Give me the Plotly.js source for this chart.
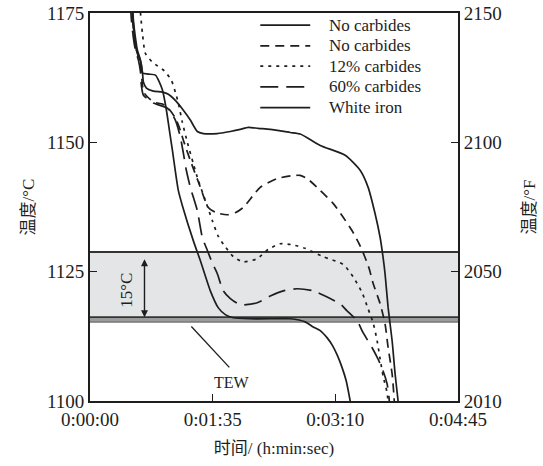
<!DOCTYPE html>
<html><head><meta charset="utf-8">
<script src="https://cdn.plot.ly/plotly-3.0.1.min.js"></script>
<style>html,body{margin:0;padding:0;background:#fff;}#chart{width:543px;height:466px;}</style>
</head><body><div id="chart"></div>
<script>
// ---- data (time in seconds, temperature in °C) ----
const seriesNames = ['No carbides', 'No carbides', '12% carbides', '60% carbides', 'White iron'];

const timeNC = [32.9,33.6,35.2,36.7,39.1,40.6,41.4,43.7,49.1,56.1,60.7,66.1,72.3,77.7,83.1,87.8,98.6,108.7,116.4,122.6,130.3,139.6,155.1,162.8,178.3,197.6,209.2,215.4,220.8,224.7,227.0,228.5,230.9,234.0,236.3,238.6,239.0];
const tempNC = [1176.6,1173.6,1170.2,1167.8,1165.9,1163.6,1161.6,1160.5,1159.9,1159.7,1159.3,1158.1,1156.2,1154.3,1152.1,1151.7,1151.7,1152.1,1152.5,1152.9,1152.7,1152.5,1151.9,1151.6,1149.4,1147.5,1144.6,1141.3,1136.2,1131.6,1127.7,1124.6,1118.0,1111.6,1105.2,1100.0,1098.8];

const timeND = [32.1,32.9,34.4,36.0,38.3,39.8,40.6,42.1,49.1,56.1,59.9,66.1,70.0,72.3,77.7,85.5,91.6,97.8,106.3,112.5,118.7,131.8,145.0,157.4,162.8,168.2,178.3,188.3,196.1,203.0,209.2,213.1,216.2,219.3,224.7,228.5,230.9,234.0,235.5,235.9];
const tempND = [1176.6,1173.6,1170.2,1167.8,1165.9,1163.6,1161.0,1159.5,1157.8,1157.4,1156.8,1154.7,1152.3,1150.4,1146.5,1141.3,1137.4,1136.4,1136.0,1136.4,1137.4,1141.3,1143.0,1143.6,1143.6,1143.0,1140.7,1138.2,1135.5,1132.9,1130.0,1127.7,1125.6,1122.7,1118.8,1114.9,1110.3,1105.2,1100.6,1098.8];

const time12 = [38.7,39.1,40.6,42.9,48.3,57.6,63.0,66.1,68.4,71.5,75.4,80.0,83.9,89.3,94.7,99.4,104.8,111.0,118.7,129.5,138.0,147.3,156.6,166.7,180.6,196.1,203.8,210.8,215.4,219.3,222.4,224.7,227.0,230.1,231.2];
const temp12 = [1176.6,1175.0,1171.1,1167.2,1165.5,1163.8,1162.0,1159.7,1157.6,1153.9,1150.0,1145.9,1142.6,1138.8,1134.9,1131.8,1129.8,1127.9,1126.9,1127.5,1129.3,1130.4,1130.2,1129.5,1127.9,1126.4,1124.0,1120.9,1117.8,1115.1,1111.6,1108.1,1104.8,1101.6,1098.8];

const time60 = [31.3,32.1,33.6,35.2,37.5,39.1,39.8,41.4,49.1,59.9,66.1,70.0,72.3,74.6,77.7,83.1,87.0,90.9,94.7,98.6,103.2,108.7,116.4,129.5,139.6,149.7,160.5,172.9,186.0,193.7,199.2,206.9,211.5,218.5,223.1,227.0,230.1,231.6,232.0];
const temp60 = [1176.6,1173.6,1170.2,1167.8,1165.9,1163.6,1161.0,1159.1,1157.6,1156.6,1154.3,1151.0,1147.9,1144.6,1141.3,1136.8,1131.6,1129.1,1126.7,1124.6,1121.3,1119.8,1118.6,1119.0,1120.3,1121.3,1121.7,1121.3,1119.8,1118.8,1117.4,1115.5,1113.2,1110.3,1108.1,1105.8,1103.3,1100.6,1098.8];

const timeWI = [32.1,32.9,33.6,34.4,36.0,38.3,39.8,40.6,45.2,50.7,53.8,56.1,59.2,61.5,63.8,68.4,71.5,80.0,85.5,93.2,99.4,104.8,111.0,124.1,143.5,155.1,166.7,172.9,178.3,183.7,187.6,191.4,195.3,198.4,201.5,202.3];
const tempWI = [1176.6,1175.0,1172.7,1170.2,1167.8,1166.3,1164.9,1163.4,1163.2,1163.0,1161.6,1160.1,1156.2,1152.3,1148.5,1140.7,1137.8,1131.0,1127.1,1121.3,1118.0,1116.7,1116.1,1115.9,1115.9,1115.9,1115.3,1114.3,1113.6,1112.2,1110.8,1108.9,1106.4,1103.9,1100.0,1098.8];

const xTickVals = [0, 95, 190, 285];
const xTickText = ['0:00:00', '0:01:35', '0:03:10', '0:04:45'];
const yTickVals = [1100, 1125, 1150, 1175];
const yTickTextF = ['2010', '2050', '2100', '2150'];

const bandTop = 1128.8, bandBottom = 1116.2, bandEdge = 1115.25;   // °C
const arrowTime = 42.2, arrowTop = 1127.7;                            // 15°C arrow
const tewStart = [78.5, 1114.4], tewEnd = [107.9, 1106.5];           // TEW pointer
const tewLabel = [110.2, 1103.6];
const spanLabel = [28.2, 1121.4];

// ---- styles ----
const INK = '#1e1e1e';
const FONT = 'Liberation Serif, Times New Roman, Noto Sans CJK SC, serif';
const dashes = ['solid', '9px,6px', '3px,5px', '18px,8px', 'solid'];
const xs = [timeNC, timeND, time12, time60, timeWI];
const ys = [tempNC, tempND, temp12, temp60, tempWI];

const traces = xs.map((x, i) => ({
  x: x, y: ys[i], type: 'scatter', mode: 'lines', name: seriesNames[i],
  line: {color: INK, width: 1.7, dash: dashes[i], shape: 'spline', smoothing: 0.6},
  showlegend: false, hoverinfo: 'skip'
}));
traces.push({x: [null], y: [null], yaxis: 'y2', type: 'scatter', mode: 'lines', showlegend: false, hoverinfo: 'skip'});

// custom legend rows (paper coords)
const legX0 = 0.4627, legX1 = 0.5984, legTx = 0.6445;
const legY = [0.969, 0.9155, 0.863, 0.8096, 0.7563];

const shapes = [
  {type: 'rect', xref: 'paper', x0: 0, x1: 1, yref: 'y', y0: bandBottom, y1: bandTop,
   fillcolor: '#e4e5e7', line: {width: 0}, layer: 'below'},
  {type: 'rect', xref: 'paper', x0: 0, x1: 1, yref: 'y', y0: bandEdge, y1: bandBottom,
   fillcolor: '#9c9c9c', line: {width: 0}, layer: 'below'},
  {type: 'line', xref: 'paper', x0: 0, x1: 1, yref: 'y', y0: bandTop, y1: bandTop,
   line: {color: '#333', width: 2}, layer: 'below'},
  {type: 'line', xref: 'paper', x0: 0, x1: 1, yref: 'y', y0: bandBottom, y1: bandBottom,
   line: {color: '#333', width: 1.8}, layer: 'below'},
  {type: 'line', xref: 'paper', x0: 0, x1: 1, yref: 'y', y0: bandEdge, y1: bandEdge,
   line: {color: '#555', width: 1}, layer: 'below'},
  {type: 'line', xref: 'x', yref: 'y', x0: tewStart[0], y0: tewStart[1], x1: tewEnd[0], y1: tewEnd[1],
   line: {color: INK, width: 1.3}}
];
legY.forEach((yy, i) => {
  shapes.push({type: 'line', xref: 'paper', yref: 'paper', x0: legX0, x1: legX1, y0: yy, y1: yy,
    line: {color: INK, width: 1.7, dash: dashes[i]}});
});

const annotations = [
  {xref: 'x', yref: 'y', x: arrowTime, y: bandBottom, axref: 'x', ayref: 'y', ax: arrowTime, ay: arrowTop,
   text: '', showarrow: true, arrowside: 'end+start', arrowhead: 2, arrowsize: 1, arrowwidth: 1.4,
   arrowcolor: INK, standoff: 0, startstandoff: 0},
  {xref: 'x', yref: 'y', x: spanLabel[0], y: spanLabel[1], text: '15°C', textangle: -90, showarrow: false,
   font: {family: FONT, size: 17, color: INK}},
  {xref: 'x', yref: 'y', x: tewLabel[0], y: tewLabel[1], text: 'TEW', showarrow: false,
   font: {family: FONT, size: 16, color: INK}}
];
legY.forEach((yy, i) => {
  annotations.push({xref: 'paper', yref: 'paper', x: legTx, y: yy, xanchor: 'left', yanchor: 'middle',
    text: seriesNames[i], showarrow: false, font: {family: FONT, size: 17, color: INK}});
});

const axisCommon = {
  ticks: 'inside', ticklen: 7, tickwidth: 1.5, tickcolor: INK,
  showline: true, linewidth: 2, linecolor: INK, showgrid: false, zeroline: false,
  tickfont: {family: FONT, size: 19, color: INK}, fixedrange: true
};

const layout = {
  width: 543, height: 466,
  margin: {l: 90, r: 85, t: 13, b: 65},
  paper_bgcolor: '#fff', plot_bgcolor: '#fff',
  font: {family: FONT, color: INK},
  showlegend: false,
  xaxis: Object.assign({}, axisCommon, {
    range: [0, 285], tickmode: 'array', tickvals: xTickVals, ticktext: xTickText, mirror: true,
    title: {text: '时间/ (h:min:sec)', font: {family: FONT, size: 17, color: INK}, standoff: 13}
  }),
  yaxis: Object.assign({}, axisCommon, {
    range: [1100, 1175], tickmode: 'array', tickvals: yTickVals, ticktext: yTickVals.map(String), mirror: true,
    title: {text: '温度/°C', font: {family: FONT, size: 17, color: INK}, standoff: 8}
  }),
  yaxis2: Object.assign({}, axisCommon, {
    overlaying: 'y', side: 'right', range: [1100, 1175], tickmode: 'array',
    tickvals: yTickVals, ticktext: yTickTextF,
    title: {text: '温度/°F', font: {family: FONT, size: 17, color: INK}, standoff: 22}
  }),
  shapes: shapes,
  annotations: annotations
};

Plotly.newPlot('chart', traces, layout, {staticPlot: true, displayModeBar: false});
</script>
</body></html>
